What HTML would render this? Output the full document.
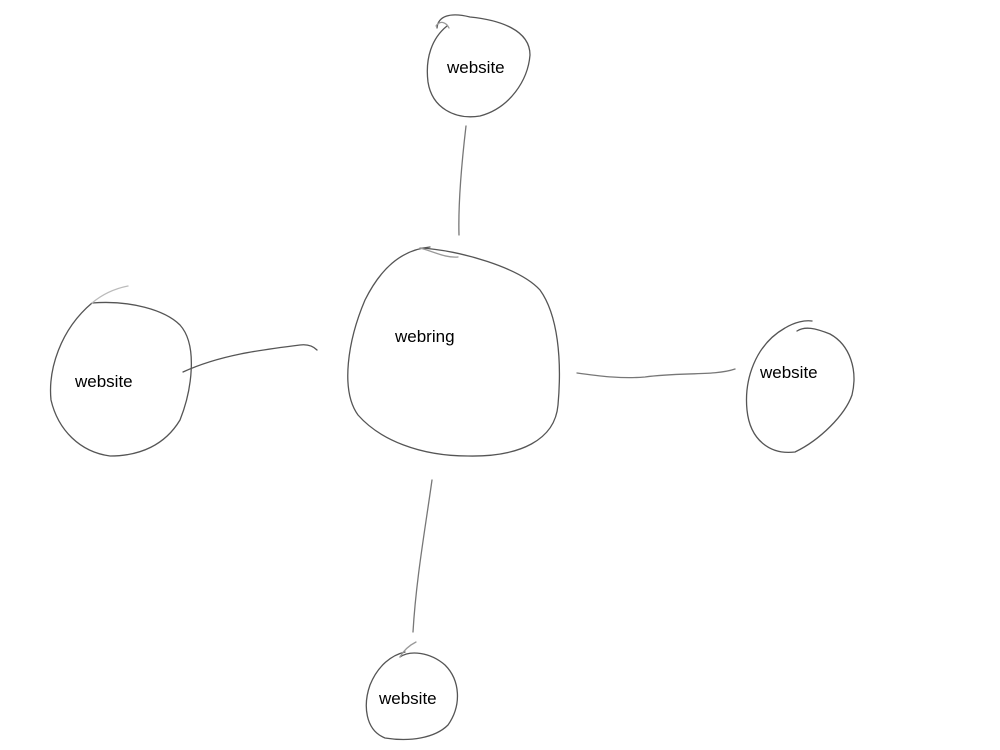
<!DOCTYPE html>
<html><head><style>
html,body{margin:0;padding:0;background:#fff;}
svg{display:block;}
text{font-family:"Liberation Sans",sans-serif;font-size:17px;fill:#000;}
</style></head><body>
<svg width="1000" height="750" viewBox="0 0 1000 750">
<g fill="none" stroke="#555" stroke-width="1.3" stroke-linecap="round">
<!-- top -->
<path d="M437,28 C438,16 450,12 470,17 C500,20 530,30 530,55 C528,80 510,108 480,116 C455,120 432,108 428,82 C425,58 432,38 447,26"/>
<path d="M436,26 C440,20 446,22 449,28" stroke="#999"/>
<!-- center -->
<path d="M420,248 C460,250 520,268 540,290 C558,315 562,360 558,405 C555,440 520,457 468,456 C420,456 380,440 358,415 C340,390 348,340 365,300 C380,270 400,250 430,247"/>
<path d="M420,248 C435,252 445,258 458,257" stroke="#999"/>
<!-- left -->
<path d="M92,303 C130,300 165,310 180,325 C198,345 192,390 180,420 C165,445 140,456 110,456 C80,452 58,430 51,400 C48,370 60,330 92,303"/>
<path d="M92,303 C105,292 118,288 128,286" stroke="#bbb"/>
<!-- right -->
<path d="M797,331 C805,326 815,328 830,334 C850,345 858,370 852,395 C845,415 820,440 795,452 C770,455 750,440 747,410 C744,380 755,345 785,328 C795,322 805,320 812,321"/>
<!-- bottom -->
<path d="M400,657 C410,650 430,652 445,665 C460,680 462,705 448,725 C435,738 410,742 385,738 C365,730 363,705 370,685 C378,665 392,655 405,652"/>
<path d="M400,657 C405,648 412,644 416,642" stroke="#999"/>
<!-- connectors -->
<path d="M466,126 C462,160 458,200 459,235" stroke="#777"/>
<path d="M183,372 C220,355 260,350 300,345 C308,344 313,346 317,350"/>
<path d="M577,373 C600,376 620,379 645,377 C680,372 715,376 735,369" stroke="#777"/>
<path d="M432,480 C425,530 416,580 413,632" stroke="#777"/>
</g>
<text x="447" y="73">website</text>
<text x="395" y="342">webring</text>
<text x="75" y="387">website</text>
<text x="760" y="378">website</text>
<text x="379" y="704">website</text>
</svg>
</body></html>
